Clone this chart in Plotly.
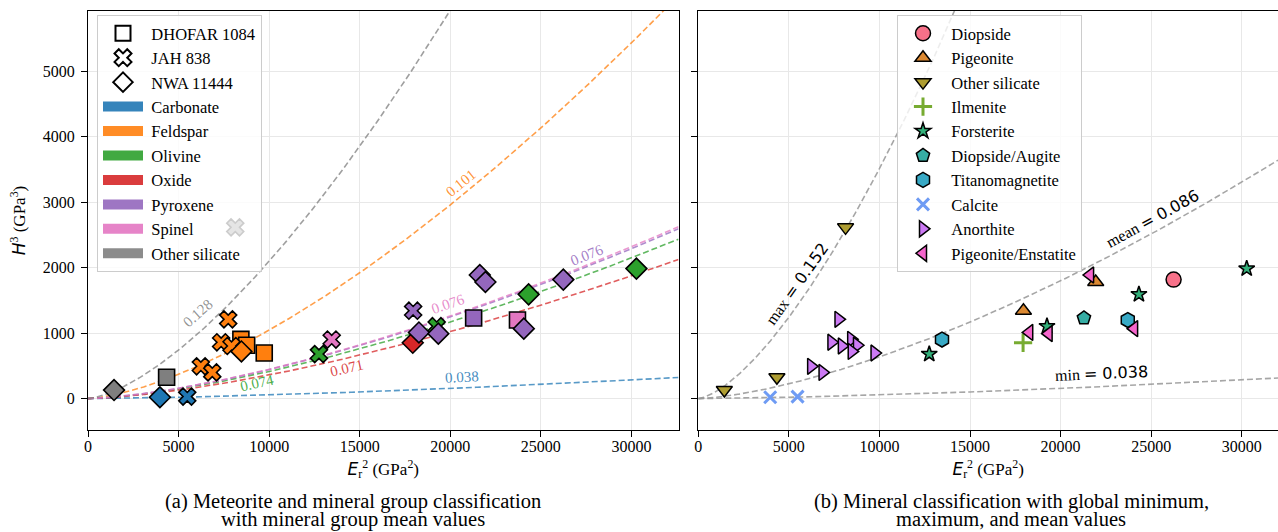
import numpy as np
import plotly.graph_objects as go

# ---------------- data ----------------
meteorite = ["NWA 11444", "DHOFAR 1084", "JAH 838", "NWA 11444", "JAH 838",
             "JAH 838", "JAH 838", "JAH 838", "JAH 838", "DHOFAR 1084",
             "DHOFAR 1084", "JAH 838", "NWA 11444", "DHOFAR 1084", "JAH 838",
             "JAH 838", "JAH 838", "NWA 11444", "NWA 11444", "JAH 838",
             "NWA 11444", "DHOFAR 1084", "NWA 11444", "NWA 11444", "NWA 11444",
             "NWA 11444", "DHOFAR 1084", "NWA 11444", "NWA 11444"]
group = ["Other silicate", "Other silicate", "Other silicate", "Carbonate", "Carbonate",
         "Feldspar", "Feldspar", "Feldspar", "Feldspar", "Feldspar",
         "Feldspar", "Feldspar", "Feldspar", "Feldspar", "Olivine",
         "Spinel", "Pyroxene", "Oxide", "Pyroxene", "Olivine",
         "Pyroxene", "Pyroxene", "Pyroxene", "Pyroxene", "Olivine",
         "Pyroxene", "Spinel", "Pyroxene", "Olivine"]
mineral = ["Other silicate", "Other silicate", "Other silicate", "Calcite", "Calcite",
           "Anorthite", "Anorthite", "Anorthite", "Anorthite", "Anorthite",
           "Anorthite", "Anorthite", "Anorthite", "Anorthite", "Forsterite",
           "Titanomagnetite", "Pigeonite", "Ilmenite", "Pigeonite/Enstatite", "Forsterite",
           "Pigeonite/Enstatite", "Diopside/Augite", "Pigeonite/Enstatite", "Pigeonite", "Forsterite",
           "Diopside", "Titanomagnetite", "Pigeonite/Enstatite", "Forsterite"]
er2 = [1437, 4340, 8130, 3970, 5480,
       7740, 7350, 6230, 6860, 8440,
       8760, 7925, 8470, 9730, 12750,
       13454, 17950, 17930, 18270, 19250,
       19340, 21290, 21630, 21940, 24325,
       26240, 23710, 24060, 30276]
h3 = [130, 325, 2615, 20, 30,
      1210, 860, 493, 400, 905,
      814, 803, 720, 696, 680,
      902, 1342, 852, 1010, 1105,
      992, 1231, 1888, 1780, 1592,
      1817, 1200, 1068, 1985]

meteorite_names = ["DHOFAR 1084", "JAH 838", "NWA 11444"]
group_names = ["Carbonate", "Feldspar", "Olivine", "Oxide", "Pyroxene", "Spinel", "Other silicate"]
group_ratio = [0.038, 0.1015, 0.0745, 0.0712, 0.0761, 0.0764, 0.128]
group_ratio_text = ["0.038", "0.101", "0.074", "0.071", "0.076", "0.076", "0.128"]

mineral_names = ["Diopside", "Pigeonite", "Other silicate", "Ilmenite", "Forsterite",
                 "Diopside/Augite", "Titanomagnetite", "Calcite", "Anorthite",
                 "Pigeonite/Enstatite"]
global_names = ["min", "max", "mean"]
global_ratio = [0.038, 0.152, 0.086]

x_ticks = [0, 5000, 10000, 15000, 20000, 25000, 30000]
y_ticks = [0, 1000, 2000, 3000, 4000, 5000]

caption_a = ["(a) Meteorite and mineral group classification", "with mineral group mean values"]
caption_b = ["(b) Mineral classification with global minimum,", "maximum, and mean values"]

# ---------------- styles ----------------
W, H = 1278, 532
TOP, BOT = 11, 430
L_DOM = (88.0, 678.5)
R_DOM = (698.3, 1278.0)
Y_RANGE = [-480, 5920]
XL_MAX = 32600
SX = (L_DOM[1] - L_DOM[0]) / XL_MAX
XR_MAX = (R_DOM[1] - R_DOM[0]) / SX
SY = (BOT - TOP) / (Y_RANGE[1] - Y_RANGE[0])

SERIF = "Liberation Serif"

group_colors = ["#1f77b4", "#ff7f0e", "#2ca02c", "#d62728", "#9467bd", "#e377c2", "#7f7f7f"]
met_symbols = {"DHOFAR 1084": "square", "JAH 838": "x", "NWA 11444": "diamond"}
met_sizes = {"DHOFAR 1084": 16, "JAH 838": 15, "NWA 11444": 16}

mineral_colors = ["#f77189", "#dc8932", "#ae9d31", "#77ab31", "#33b07a",
                  "#36ada4", "#38a9c5", "#6e9bf4", "#cc7af4", "#f565cc"]
mineral_symbols = ["circle", "triangle-up", "triangle-down", "cross-thin", "star",
                   "pentagon", "hexagon", "x-thin", "triangle-right", "triangle-left"]
mineral_sizes = [15, 14, 14, 13, 12, 14, 15, 12, 14, 14]

# label placements (data coordinates of the text centres)
group_label_pos = [(20650, 327), (20590, 3291), (9330, 234), (14300, 463),
                   (27550, 2188), (19875, 1440), (6073, 1306)]
global_label_pos = [(22270, 382), (5466, 1756), (25100, 2753)]

fig = go.Figure()


def hex_rgba(h, a):
    h = h.lstrip("#")
    return "rgba(%d,%d,%d,%.2f)" % (int(h[0:2], 16), int(h[2:4], 16), int(h[4:6], 16), a)


def angle_px(k, x):
    slope = 1.5 * k ** 3 * np.sqrt(x) * SY / SX
    return float(np.degrees(np.arctan(slope)))


def py_to_paper(py):
    return (BOT - py) / (BOT - TOP)


# ---------------- left panel ----------------
xs_l = np.linspace(0, XL_MAX, 500)
for gname, k, col in zip(group_names, group_ratio, group_colors):
    fig.add_trace(go.Scatter(x=xs_l, y=k ** 3 * xs_l ** 1.5, mode="lines",
                             line=dict(color=hex_rgba(col, 0.75), width=1.6, dash="6px,3px"),
                             showlegend=False, hoverinfo="skip", xaxis="x", yaxis="y"))

for met in meteorite_names:
    for gname, col in zip(group_names, group_colors):
        idx = [i for i in range(len(er2)) if meteorite[i] == met and group[i] == gname]
        if not idx:
            continue
        fig.add_trace(go.Scatter(
            x=[er2[i] for i in idx], y=[h3[i] for i in idx], mode="markers",
            marker=dict(symbol=met_symbols[met], size=met_sizes[met], color=col,
                        line=dict(color="black", width=1.6)),
            showlegend=False, xaxis="x", yaxis="y"))

# legend entries (left)
for met in meteorite_names:
    fig.add_trace(go.Scatter(x=[None], y=[None], mode="markers", name="&#8201;" + met,
                             marker=dict(symbol=met_symbols[met] + "-open", size=15,
                                         color="black", line=dict(width=2)),
                             legend="legend", xaxis="x", yaxis="y"))
for gname, col in zip(group_names, group_colors):
    fig.add_trace(go.Scatter(x=[None], y=[None], mode="lines", name="&#8201;" + gname,
                             line=dict(color=hex_rgba(col, 0.9), width=10),
                             legend="legend", xaxis="x", yaxis="y"))

for (lx, ly), k, txt, col in zip(group_label_pos, group_ratio, group_ratio_text, group_colors):
    fig.add_annotation(x=lx, y=ly, xref="x", yref="y", text=txt, showarrow=False,
                       textangle=-angle_px(k, lx),
                       font=dict(family=SERIF, size=15, color=hex_rgba(col, 0.85)))

# ---------------- right panel ----------------
xs_r = np.linspace(0, XR_MAX, 500)
for k in global_ratio:
    fig.add_trace(go.Scatter(x=xs_r, y=k ** 3 * xs_r ** 1.5, mode="lines",
                             line=dict(color="rgba(150,150,150,0.85)", width=1.6, dash="6px,3px"),
                             showlegend=False, hoverinfo="skip", xaxis="x2", yaxis="y2"))

for mname, col, sym, sz in zip(mineral_names, mineral_colors, mineral_symbols, mineral_sizes):
    idx = [i for i in range(len(er2)) if mineral[i] == mname]
    if sym in ("x-thin", "cross-thin"):
        mk = dict(symbol=sym, size=sz, color=col, line=dict(color=col, width=3))
    else:
        mk = dict(symbol=sym, size=sz, color=col, line=dict(color="black", width=1.5))
    fig.add_trace(go.Scatter(x=[er2[i] for i in idx], y=[h3[i] for i in idx], mode="markers",
                             name="&#8201;" + mname, marker=mk, legend="legend2",
                             xaxis="x2", yaxis="y2"))

for (lx, ly), nm, k in zip(global_label_pos, global_names, global_ratio):
    txt = (nm + ' <span style="font-family:DejaVu Sans">= ' + ("%.3f" % k) + "</span>")
    fig.add_annotation(x=lx, y=ly, xref="x2", yref="y2", text=txt, showarrow=False,
                       textangle=-angle_px(k, lx),
                       font=dict(family=SERIF, size=16, color="black"))

# ---------------- captions ----------------
for cap, cx in ((caption_a, 353), (caption_b, 1011)):
    for line, cy in zip(cap, (501, 519)):
        fig.add_annotation(x=cx / W, y=py_to_paper(cy), xref="paper", yref="paper",
                           xanchor="center", yanchor="middle", showarrow=False, text=line,
                           font=dict(family=SERIF, size=20.5, color="black"))

# ---------------- layout ----------------
axis_common = dict(showgrid=True, gridcolor="#e8e8e8", gridwidth=1, zeroline=False,
                   showline=True, linecolor="black", linewidth=1.3,
                   ticks="outside", ticklen=6, tickwidth=1.2, tickcolor="black",
                   tickfont=dict(family=SERIF, size=16, color="black"))

xtitle = ('<span style="font-family:DejaVu Sans"><i>E</i></span>'
          '<sub>r</sub><sup>2</sup> (GPa<sup>2</sup>)')
ytitle = ('<span style="font-family:DejaVu Sans"><i>H</i></span>'
          '<sup>3</sup> (GPa<sup>3</sup>)')

fig.update_layout(
    width=W, height=H, paper_bgcolor="white", plot_bgcolor="white",
    margin=dict(l=0, r=0, t=TOP, b=H - BOT, autoexpand=False),
    font=dict(family=SERIF, size=16, color="black"),
    xaxis=dict(domain=[L_DOM[0] / W, L_DOM[1] / W], range=[0, XL_MAX],
               tickvals=x_ticks, tickformat="d", mirror=True, ticklabelstandoff=-4,
               title=dict(text=xtitle, standoff=8, font=dict(family=SERIF, size=17)),
               anchor="y", **axis_common),
    yaxis=dict(domain=[0, 1], range=Y_RANGE, tickvals=y_ticks, tickformat="d",
               mirror=True, anchor="x", ticklabelstandoff=3,
               title=dict(text=ytitle, standoff=12, font=dict(family=SERIF, size=17)),
               **axis_common),
    xaxis2=dict(domain=[R_DOM[0] / W, 1.0], range=[0, XR_MAX],
                tickvals=x_ticks, tickformat="d", mirror=True, ticklabelstandoff=-4,
                title=dict(text=xtitle, standoff=8, font=dict(family=SERIF, size=17)),
                anchor="y2", **axis_common),
    yaxis2=dict(domain=[0, 1], range=Y_RANGE, tickvals=y_ticks,
                matches="y", showticklabels=False, mirror=False, anchor="x2",
                **axis_common),
    legend=dict(x=97 / W, y=py_to_paper(15), xanchor="left", yanchor="top",
                bgcolor="rgba(255,255,255,0.8)", bordercolor="#cccccc", borderwidth=1,
                font=dict(family=SERIF, size=16.5, color="black"), itemwidth=40,
                traceorder="normal", itemsizing="trace"),
    legend2=dict(x=897 / W, y=py_to_paper(15), xanchor="left", yanchor="top",
                 bgcolor="rgba(255,255,255,0.8)", bordercolor="#cccccc", borderwidth=1,
                 font=dict(family=SERIF, size=16.5, color="black"), itemwidth=40,
                 traceorder="normal", itemsizing="trace"),
    showlegend=True,
)

fig.write_html("out.html", config={"displayModeBar": False},
               post_script="document.body.style.margin='0px';")
